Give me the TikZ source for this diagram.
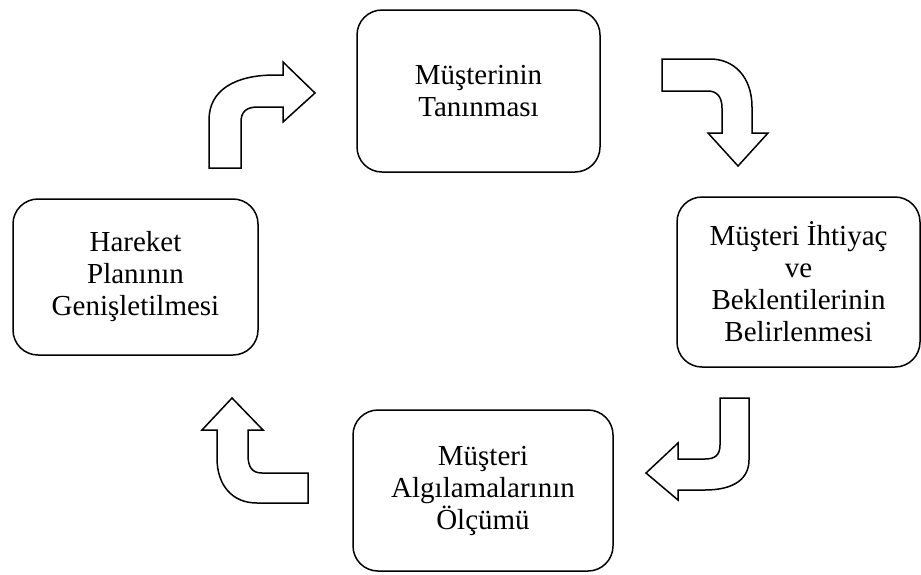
\documentclass[tikz,border=0pt]{standalone}
\usepackage{fontspec}
\setmainfont{Liberation Serif}
\begin{document}
\begin{tikzpicture}[x=1pt,y=-1pt,
  box/.style={draw=black,line width=1.5pt,rounded corners=25pt,align=center,
    font=\fontsize{29pt}{32pt}\selectfont,inner sep=0pt},
  blockarrow/.style={draw=black,fill=white,line width=1.5pt,line join=miter}]
\useasboundingbox (0,0) rectangle (921,574);
% boxes
\node[box,minimum width=243pt,minimum height=162pt] (b1) at (478.5,91) {Müşterinin\\Tanınması};
\node[box,minimum width=243pt,minimum height=170pt] (b2) at (798.5,282) {Müşteri İhtiyaç\\ve\\Beklentilerinin\\Belirlenmesi};
\node[box,minimum width=260pt,minimum height=161pt] (b3) at (483,490.5) {Müşteri\\Algılamalarının\\Ölçümü};
\node[box,minimum width=245pt,minimum height=156pt] (b4) at (135.5,277) {Hareket\\Planının\\Genişletilmesi};
% bent block arrows
\draw[blockarrow] (209,168) -- (209,120) .. controls (209,90) and (235,75) .. (275,75)
  -- (283,75) -- (283,62) -- (315,93) -- (283,122) -- (283,107) -- (258,107)
  .. controls (246,107) and (241,112) .. (241,122) -- (241,168) -- cycle;
\draw[blockarrow] (662,59) -- (710,59) .. controls (735,59) and (752,78) .. (752,107)
  -- (752,133) -- (768,133) -- (738,166) -- (708,133) -- (722,133) -- (722,108)
  .. controls (722,97) and (717,91) .. (708,91) -- (662,91) -- cycle;
\draw[blockarrow] (720,398) -- (749,398) -- (749,460) .. controls (749,478) and (735,490) .. (705,490)
  -- (678,490) -- (678,500) -- (646,473) -- (678,443) -- (678,459) -- (705,459)
  .. controls (715,459) and (720,455) .. (720,445) -- cycle;
\draw[blockarrow] (308,473) -- (308,503) -- (257,503) .. controls (232,503) and (217,485) .. (217,458)
  -- (217,430) -- (202,430) -- (232,398) -- (263,430) -- (248,430) -- (248,455)
  .. controls (248,467) and (252,473) .. (262,473) -- cycle;
\end{tikzpicture}
\end{document}
